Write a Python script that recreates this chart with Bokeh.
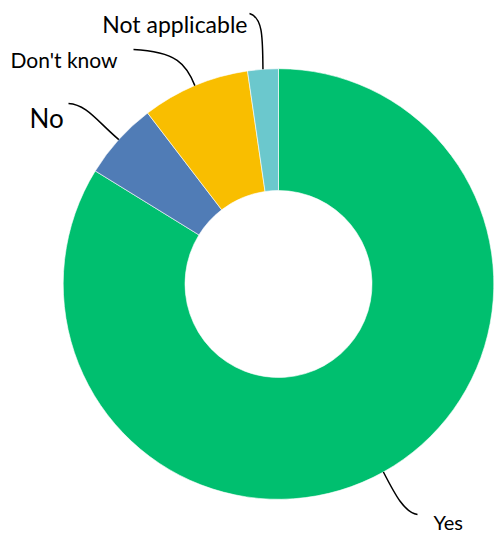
import numpy as np
from bokeh.plotting import figure
from bokeh.models import Range1d, ColumnDataSource
from bokeh.core.properties import value
from bokeh.embed import file_html
from bokeh.resources import INLINE

categories = ["Yes", "No", "Don't know", "Not applicable"]
values = [83.8, 5.8, 8.1, 2.3]
colors = ["#00BF6F", "#507CB6", "#F9BE00", "#6BC8CD"]

W, H = 494, 536
CX, CY = 278, H - 283.5
R_OUT, R_IN = 215.3, 93.5

p = figure(width=W, height=H, output_backend="svg", toolbar_location=None,
           x_range=Range1d(0, W), y_range=Range1d(0, H), min_border=0)
p.axis.visible = False
p.grid.visible = False
p.outline_line_color = None

fr = np.array(values) / sum(values)
cum = np.concatenate([[0], np.cumsum(fr)])
start = np.pi / 2 - cum[:-1] * 2 * np.pi
end = np.pi / 2 - cum[1:] * 2 * np.pi
src = ColumnDataSource(dict(start=start, end=end, color=colors, cat=categories))
p.annular_wedge(x=CX, y=CY, inner_radius=R_IN, outer_radius=R_OUT,
                start_angle="start", end_angle="end", direction="clock",
                fill_color="color", line_color="white", line_width=0.6, source=src)

mid = (start + end) / 2
sx = CX + R_OUT * np.cos(mid)
sy = CY + R_OUT * np.sin(mid)

def fy(y):
    return H - y

# leader layout (end point and control points), in screen px
lead = {
    "Yes": dict(end=(417, 514), c0=(395, 495), c1=(404, 512)),
    "No": dict(end=(68, 103), c0=(96, 120), c1=(86, 104)),
    "Don't know": dict(end=(133, 49), c0=(186, 64), c1=(176, 51)),
    "Not applicable": dict(end=(249, 13), c0=(262, 40), c1=(263, 17)),
}
for i, c in enumerate(categories):
    L = lead[c]
    p.bezier(x0=[sx[i]], y0=[sy[i]], x1=[L["end"][0]], y1=[fy(L["end"][1])],
             cx0=[L["c0"][0]], cy0=[fy(L["c0"][1])], cx1=[L["c1"][0]], cy1=[fy(L["c1"][1])],
             line_color="black", line_width=1.5)

labels = {
    "Yes": dict(x=433, y=521, size="20px", align="left"),
    "No": dict(x=29, y=117, size="26px", align="left"),
    "Don't know": dict(x=10, y=59, size="21px", align="left"),
    "Not applicable": dict(x=247, y=23, size="23px", align="right"),
}
for c in categories:
    L = labels[c]
    p.text(x=[L["x"]], y=[fy(L["y"])], text=[c], text_font=value("Lato"),
           text_font_size=L["size"], text_align=L["align"], text_baseline="middle",
           text_color="black")

open("out.html", "w").write(file_html(p, INLINE))
